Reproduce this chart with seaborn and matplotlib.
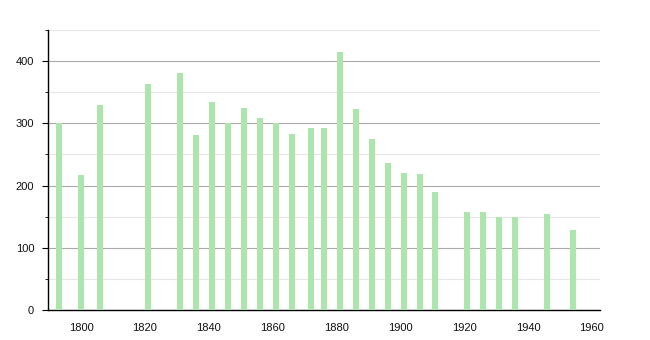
import matplotlib
matplotlib.use("Agg")
import matplotlib.pyplot as plt
import seaborn as sns
import pandas as pd
from matplotlib.ticker import MultipleLocator

years = [1793, 1800, 1806, 1821, 1831, 1836, 1841, 1846, 1851, 1856, 1861, 1866,
         1872, 1876, 1881, 1886, 1891, 1896, 1901, 1906, 1911, 1921, 1926, 1931,
         1936, 1946, 1954]
population = [300, 217, 330, 363, 381, 282, 335, 300, 325, 309, 300, 283,
              293, 292, 414, 323, 275, 236, 220, 218, 189, 158, 158, 150,
              149, 154, 128]
x_ticks = [1800, 1820, 1840, 1860, 1880, 1900, 1920, 1940, 1960]
y_ticks = [0, 100, 200, 300, 400]

sns.set_theme(style="white")
plt.rcParams['font.family'] = ['Liberation Sans', 'DejaVu Sans']

df = pd.DataFrame({"year": years, "pop": population})

fig = plt.figure(figsize=(6.5, 3.4), dpi=100)
ax = fig.add_axes([0.074, 0.088, 0.849, 0.824])

sns.barplot(data=df, x="year", y="pop", native_scale=True, width=0.47,
            color="#ace6ac", saturation=1, edgecolor="none", ax=ax, zorder=3)

ax.set_xlim(1789.7, 1962.5)
ax.set_ylim(0, 450)
ax.set_xticks(x_ticks)
ax.set_yticks(y_ticks)
ax.yaxis.set_minor_locator(MultipleLocator(50))
ax.grid(axis="y", which="major", color="#aaaaaa", linewidth=0.8, zorder=0)
ax.grid(axis="y", which="minor", color="#e6e6e6", linewidth=0.8, zorder=0)
ax.set_axisbelow(True)
ax.set_xlabel("")
ax.set_ylabel("")
for s in ["top", "right"]:
    ax.spines[s].set_visible(False)
for s in ["left", "bottom"]:
    ax.spines[s].set_color("black")
    ax.spines[s].set_linewidth(1.0)
ax.tick_params(axis="y", which="major", left=True, length=4, width=0.8, color="black",
               labelsize=8, pad=6, labelcolor="#111111")
ax.tick_params(axis="y", which="minor", left=True, length=2, width=0.6, color="black")
ax.tick_params(axis="x", bottom=False, labelsize=8, pad=3, labelcolor="#111111")

fig.savefig("out.png", dpi=100)
